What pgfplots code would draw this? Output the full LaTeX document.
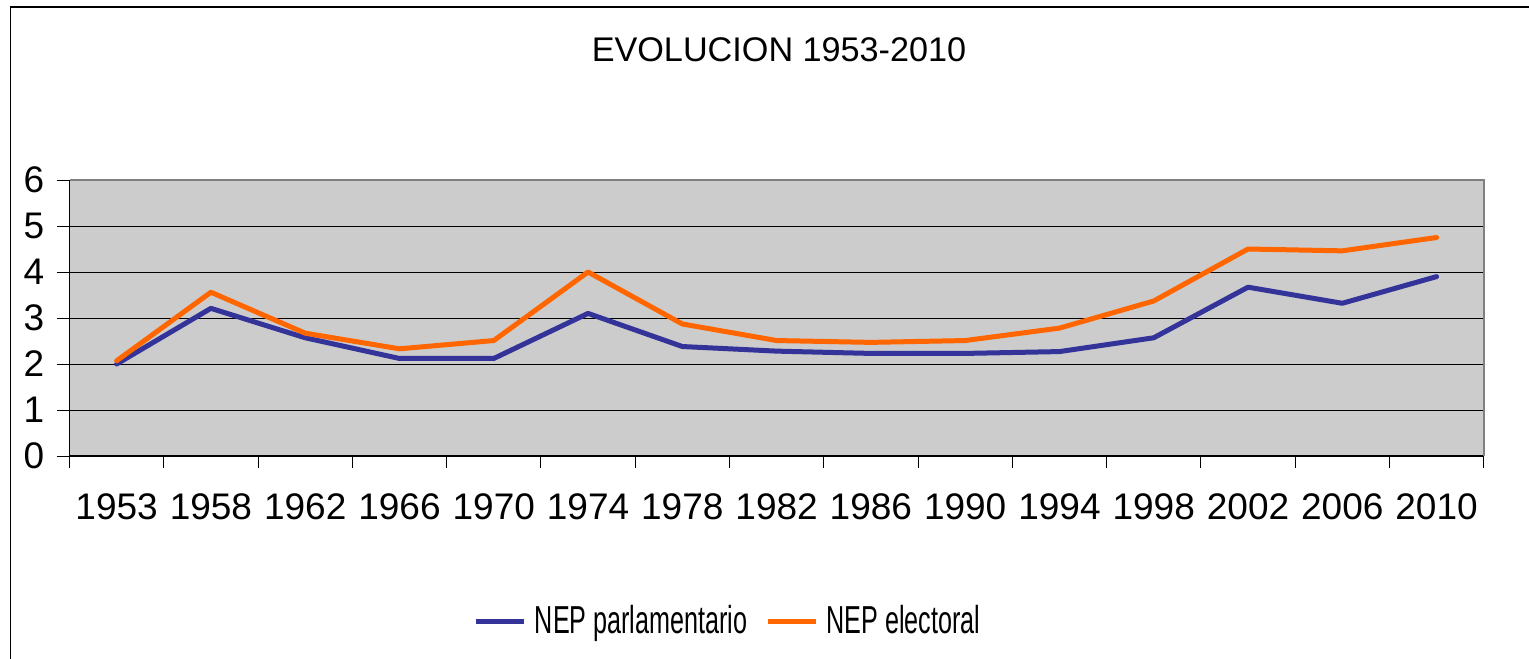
\documentclass[border=0pt]{standalone}
\usepackage{pgfplots}
\pgfplotsset{compat=1.18}
\usepackage{fontspec}
\setmainfont{Liberation Sans}
\definecolor{serA}{HTML}{333399}
\definecolor{serB}{HTML}{FF6600}
\definecolor{plotbg}{HTML}{CCCCCC}
\pgfplotstableread{
x parl elec
0 2.00 2.07
1 3.21 3.56
2 2.57 2.67
3 2.12 2.33
4 2.12 2.51
5 3.10 4.00
6 2.38 2.87
7 2.28 2.51
8 2.23 2.47
9 2.23 2.51
10 2.27 2.78
11 2.57 3.37
12 3.67 4.50
13 3.32 4.46
14 3.90 4.75
}\datatable
\begin{document}
\begin{tikzpicture}
\useasboundingbox (0,0) rectangle (764.5bp,329.5bp);
\draw[line width=0.75bp] (5.25bp,-5bp) -- (5.25bp,326bp) -- (770bp,326bp);
\node[font=\fontsize{17.1bp}{20bp}\selectfont] at (389.5bp,304.5bp) {EVOLUCION 1953-2010};
\begin{axis}[
  at={(34.75bp,101.5bp)}, anchor=south west,
  scale only axis, width=707.1bp, height=138bp,
  xmin=-0.5, xmax=14.5, ymin=0, ymax=6,
  axis lines*=left,
  axis line style={line width=0.6bp, black},
  axis background/.style={fill=plotbg},
  xtick={0,...,14},
  xticklabels={1953,1958,1962,1966,1970,1974,1978,1982,1986,1990,1994,1998,2002,2006,2010},
  major x tick style={draw=none},
  minor xtick={-0.5,0.5,...,14.5},
  minor tick length=6bp,
  minor x tick style={black, line width=0.5bp},
  ytick={0,1,...,6},
  major tick length=6bp,
  tick align=outside,
  ytick style={black, line width=0.5bp},
  ymajorgrids,
  major grid style={black, line width=0.5bp},
  /pgf/number format/assume math mode=true,
  tick label style={font=\fontsize{18.5bp}{22bp}\selectfont, inner sep=0pt},
  xticklabel style={anchor=center, yshift=-19.5bp},
  yticklabel style={anchor=east, xshift=-6.5bp},
  legend style={at={(0.4678,-0.598)}, anchor=center, draw=none, fill=none,
    font=\fontsize{19.5bp}{22bp}\selectfont,
    /tikz/every even column/.append style={column sep=5bp},
    /tikz/every odd column/.append style={column sep=0bp},
    nodes={inner xsep=4bp}},
  legend columns=2,
  legend image code/.code={\draw[#1, line cap=butt] (0bp,0bp) -- (24bp,0bp);},
  clip=false,
]
\draw[gray, line width=1bp] (rel axis cs:0,1) -- (rel axis cs:1,1) -- (rel axis cs:1,0);
\addplot[serA, line width=2.5bp, line join=round, line cap=round] table[x=x, y=parl] {\datatable};
\addlegendentry{\scalebox{0.645}[1]{NEP parlamentario}}
\addplot[serB, line width=2.5bp, line join=round, line cap=round] table[x=x, y=elec] {\datatable};
\addlegendentry{\scalebox{0.645}[1]{NEP electoral}}
\end{axis}
\end{tikzpicture}
\end{document}
